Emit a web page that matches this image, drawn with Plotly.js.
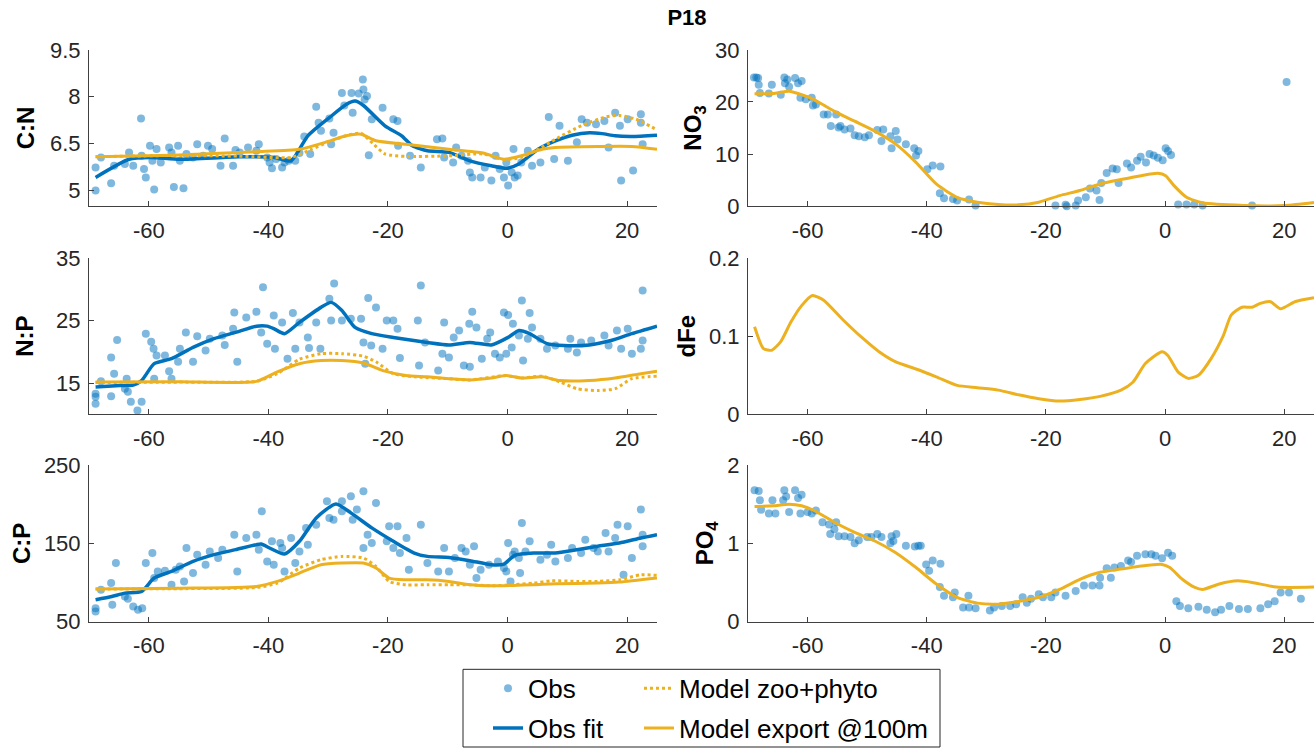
<!DOCTYPE html>
<html><head><meta charset="utf-8">
<script src="https://cdn.plot.ly/plotly-3.0.1.min.js"></script>
<style>html,body{margin:0;padding:0;background:#fff}#chart{width:1314px;height:752px}</style>
</head><body><div id="chart"></div>
<script>
// ---------- data ----------
const xTickVals = [-60, -40, -20, 0, 20];
const xTickLabels = ['-60', '-40', '-20', '0', '20'];

// C:N
const cnObs = [[-68.9,5.0],[-68.9,5.74],[-68,6.06],[-66.3,5.23],[-65.8,5.79],[-64,5.85],[-63.3,6.22],[-62.6,5.79],[-61.3,7.3],[-61.2,6.11],[-60.8,5.69],[-60.5,5.42],[-59.8,6.43],[-59.4,5.95],[-59.1,5.03],[-58.7,6.33],[-58,5.9],[-56.6,6.38],[-56.2,6.22],[-55.8,5.11],[-55.1,6.43],[-54.8,5.95],[-54.2,5.07],[-53.7,6.17],[-52.6,6.06],[-51.9,6.48],[-50.9,6.11],[-50.1,6.43],[-49.4,6.33],[-48,5.79],[-47.3,6.66],[-45.9,5.79],[-45.5,6.3],[-44.8,6.22],[-43.4,6.38],[-42,6.27],[-41.6,6.48],[-40.2,6.06],[-39.8,5.9],[-39.4,5.71],[-38.7,6.01],[-37.7,5.74],[-37.3,5.9],[-36.6,5.95],[-35.5,5.95],[-34.8,6.2],[-34,6.73],[-33,6.17],[-32,7.68],[-31.6,7.17],[-31.2,6.91],[-29.8,7.3],[-29.5,6.48],[-29.1,6.85],[-27.7,8.12],[-27.3,7.72],[-26.1,8.12],[-25.9,7.49],[-24.9,8.1],[-24.2,8.55],[-24.1,8.23],[-23.9,7.91],[-23.5,8.02],[-23.2,6.13],[-22.7,7.28],[-20.9,7.65],[-19.1,7.28],[-18.4,7.22],[-18.3,6.43],[-16.3,6.11],[-14.5,5.74],[-11.8,6.64],[-10.9,6.66],[-10.6,6.06],[-9.1,5.9],[-8.6,6.38],[-7.7,6.11],[-6.6,5.95],[-6.3,5.58],[-5.9,5.42],[-4.5,5.42],[-3.8,5.74],[-2.7,5.32],[-2,6.11],[-1.3,5.69],[-0.6,5.42],[-0.2,5.9],[0.1,5.16],[0.7,5.58],[1,6.33],[1.2,5.42],[1.7,5.48],[2.3,5.9],[3.4,6.27],[4.1,5.79],[5.5,5.9],[6.9,7.35],[7.8,6.01],[8.7,7.07],[10.1,5.95],[11.6,6.54],[12.4,7.28],[13.3,7.17],[14.8,7.12],[16.2,7.22],[16.9,6.38],[18,7.49],[18.8,7.07],[19,5.32],[20.1,7.28],[21,5.64],[22.3,7.44],[22.6,6.48],[22.3,7.17]];
const cnFit = [[-68.9,5.42],[-63.3,6.0],[-59.8,6.06],[-54.8,6.0],[-44.8,6.08],[-39,6.06],[-36.2,5.95],[-33.4,6.75],[-29.8,7.33],[-27,7.75],[-25.5,7.86],[-24.1,7.72],[-20.5,7.07],[-17.7,6.75],[-15.9,6.43],[-13.4,6.27],[-9.8,6.22],[-6.3,5.95],[-2.7,5.79],[-0.2,5.71],[1.9,5.85],[5.1,6.32],[8,6.59],[10.8,6.77],[13.7,6.85],[15.8,6.82],[18,6.75],[20.8,6.73],[25,6.77]];
const cnZoo = [[-68.9,6.08],[-56,6.12],[-45,6.1],[-36.2,6.06],[-33,6.3],[-30,6.55],[-27,6.75],[-24.5,6.83],[-22.5,6.5],[-20.5,6.17],[-17,6.09],[-9.8,6.11],[-4.1,6.17],[-0.6,5.99],[2.3,6.06],[5.1,6.32],[8,6.64],[12.3,7.07],[16.5,7.36],[18.7,7.4],[21.5,7.28],[25,6.94]];
const cnExp = [[-68.9,6.08],[-56,6.13],[-42,6.24],[-34.8,6.32],[-30.5,6.54],[-27,6.75],[-24.5,6.8],[-22,6.59],[-17,6.48],[-9.8,6.32],[-4.1,6.2],[-0.6,6.0],[2.3,6.11],[5.8,6.32],[8,6.38],[15.1,6.41],[20.8,6.41],[25,6.32]];

// N:P
const npObs = [[-68.9,13.3],[-68.9,11.7],[-68.9,12.8],[-68,15.3],[-66.3,12.9],[-66.3,19.1],[-65.8,16.5],[-65.3,21.9],[-64,14.1],[-63.7,15.7],[-63.5,13.6],[-63,12],[-61.9,10.6],[-61.2,12],[-60.5,22.9],[-59.6,21.6],[-59.2,20.5],[-59.1,15.7],[-58.7,19.4],[-57.3,19.4],[-56.6,16.9],[-56.2,15.7],[-55.1,18.4],[-54.8,20.5],[-53.8,23.1],[-52.6,18.4],[-51.9,22.5],[-50.5,20.2],[-49.8,22.1],[-47.7,22.6],[-47.3,21.1],[-45.9,23.7],[-45.7,26.3],[-45.2,18.4],[-43.7,25.5],[-42,26.4],[-41.2,23.1],[-40.9,30.3],[-40.2,21.3],[-39.1,25.8],[-38.9,20.5],[-37.7,24.7],[-36.8,18.9],[-35.9,26.2],[-35.5,20.5],[-34.8,24.7],[-33.4,22.3],[-33.2,20.6],[-32,24.7],[-31.3,20.5],[-29.8,28.5],[-29.5,25],[-29,30.9],[-27.7,25],[-26.2,25.3],[-24.5,25.3],[-24.1,21.5],[-23.8,18.1],[-23.3,28.6],[-22.8,21],[-22,27.1],[-20.9,20.5],[-20.2,25],[-19.1,25],[-18.4,23.7],[-18,19],[-15,25],[-14.8,17.8],[-14.5,30.6],[-13.8,21.5],[-11.6,17],[-10.6,24.7],[-10.9,19.7],[-9.8,19.1],[-9,22.3],[-8.1,23.4],[-7.3,17.8],[-6.4,24.5],[-6.3,17.6],[-5.9,26.4],[-5.2,23.9],[-4.3,18.9],[-3.4,22.1],[-2.9,23.1],[-2.1,19.7],[-1.3,19.1],[-0.6,26.3],[-0.2,19.7],[0.1,25.9],[0.7,20.7],[0.9,24.5],[1.9,22.6],[2.4,28.2],[2.6,18.6],[3.4,22.1],[3.7,26.2],[4.1,23.9],[5.5,22.1],[6.6,20.5],[8,21],[10.5,22.1],[10.1,20.5],[11.6,19.9],[12.3,21.5],[14,21.8],[16.2,22.6],[16.9,21],[18.3,23.4],[19,20.5],[20.1,23.7],[20.8,19.7],[22.3,20.5],[22.6,21.8],[22.6,29.8]];
const npFit = [[-68.9,14.36],[-64.8,14.6],[-62.6,14.7],[-61.2,15.4],[-59.1,18.1],[-56.2,18.9],[-52.6,20.7],[-49.1,22.1],[-45.5,23.1],[-42,24.1],[-40.2,24.1],[-39.1,23.7],[-37.3,22.9],[-34.8,24.7],[-31.2,27.1],[-29.5,27.9],[-27.7,26.6],[-25.5,23.9],[-22.7,22.9],[-19.1,22.3],[-13.4,21.5],[-9.8,21.1],[-6.3,21.5],[-2.7,21.1],[0.1,22.3],[1.9,23.4],[3.7,22.9],[6.6,21.3],[9.4,21],[13.7,21.1],[17.3,21.8],[20.8,22.9],[25,24.1]];
const npZoo = [[-68.9,15.1],[-55,15.15],[-42,15.3],[-38.5,16.5],[-34.8,18.8],[-31.2,19.7],[-27.7,19.7],[-24.1,19.3],[-22,18.4],[-19.1,16.5],[-15.5,16],[-9.8,15.7],[-6.3,15.5],[-0.2,16.2],[2.3,15.8],[5.8,16.1],[8.7,15.2],[11.6,14.1],[15.1,13.8],[18,14.1],[20.8,15.7],[25,16.1]];
const npExp = [[-68.9,15.16],[-55,15.2],[-42,15.27],[-38.5,16.8],[-34.8,18.1],[-31.2,18.6],[-27.7,18.6],[-24.1,18.2],[-20.5,16.9],[-17,16.2],[-13.4,16],[-9.8,15.7],[-6.3,15.5],[-2.7,15.8],[-0.2,16.2],[2.3,15.8],[5.8,16],[8.7,15.4],[13.7,15.4],[18,15.8],[22.3,16.5],[25,16.9]];

// C:P
const cpObs = [[-68.9,67.1],[-68.9,62.8],[-68,90.6],[-66.3,99.1],[-66.1,71.4],[-65.5,124.8],[-64,82],[-63.5,79.1],[-62.6,69.2],[-61.8,65],[-61.1,67.1],[-60.5,124.8],[-59.4,137.6],[-59.1,105.6],[-58.5,114.1],[-57.3,115],[-56.2,97],[-55.5,116.2],[-54.8,120.5],[-54.1,101.3],[-53.7,144],[-52.6,112],[-51.9,135.5],[-50.5,122.6],[-49.8,139.7],[-48.4,131.2],[-47.7,141.9],[-45.7,161.1],[-45.2,114.1],[-43.7,156.8],[-42,161.1],[-41.6,141.9],[-41.1,191],[-40.2,126.9],[-39.4,152.6],[-39.1,122.6],[-38,150.4],[-37.7,144],[-37.3,114.1],[-36.2,156.8],[-35.5,124.8],[-34.8,139.7],[-33.7,169.7],[-33.4,148.3],[-32,173.9],[-30.2,203.8],[-29.8,182.5],[-29.1,180.3],[-27.7,203.8],[-27.7,191],[-26.2,210.3],[-25.9,180.3],[-25.2,193.2],[-24.1,216.7],[-24.1,144],[-23.4,161.1],[-22.7,150.4],[-22,201.7],[-20.2,152.6],[-19.8,171.8],[-19.1,144],[-18.4,171.8],[-18,137.6],[-16.9,156.8],[-16.5,116.2],[-14.5,173.9],[-13.4,124.8],[-11.6,114.1],[-10.6,144],[-9.8,114.1],[-8.8,131.2],[-7.7,144],[-7,139.7],[-6.3,122.6],[-5.6,146.2],[-5.2,105.6],[-4.5,116.2],[-3.1,122.6],[-1.6,126.9],[-0.6,118.4],[-0.2,114.1],[0.1,150.4],[0.5,101.3],[0.9,135.5],[1.2,139.7],[1.9,131.2],[2.1,112],[2.4,176],[3,139.7],[3.7,152.6],[5.5,129.1],[6.6,135.5],[7.3,148.3],[8,126.9],[10.1,131.2],[10.8,144],[12.3,137.6],[13,154.7],[14.4,144],[15.1,139.7],[16.4,163.2],[16.9,139.7],[18,156.8],[18.4,173.9],[19.4,109.8],[20.1,171.8],[20.8,131.2],[22.3,193.2],[22.6,161.1],[22.6,146.2]];
const cpFit = [[-68.9,77.8],[-66.2,82],[-64,86.3],[-61.2,88.5],[-59.1,105.6],[-56.2,114.1],[-52.6,126.9],[-49.1,135.5],[-45.5,141.9],[-42,148.3],[-41.2,149.1],[-39.8,144],[-37.3,136.3],[-34.8,152.6],[-32,182.5],[-28.7,200.4],[-26.2,188.9],[-22.7,169.7],[-19.1,152.6],[-15.6,137.6],[-13.4,133.3],[-9.8,132],[-6.3,127.8],[-2.7,122.6],[-0.6,123.5],[1.2,134.6],[4.4,137.6],[8,137.6],[11.6,141.9],[15.1,146.2],[18.7,150.4],[22.3,156.8],[25,161.1]];
const cpZoo = [[-68.9,91.5],[-55,92],[-42,93.5],[-38.5,99.1],[-34.8,118.4],[-31.2,129.1],[-27.7,133.3],[-24.1,131.2],[-22,120.5],[-19.8,101.3],[-17,97],[-13.4,97],[-9.8,97],[-6.3,97],[-2.7,95.7],[0.9,97],[4.4,99.1],[7.3,102.1],[11.6,101.3],[15.1,101.3],[18.7,103.4],[22.3,109.8],[25,109]];
const cpExp = [[-68.9,91.5],[-55,92.5],[-42,94.9],[-38.5,101.3],[-34.8,112],[-31.2,122.6],[-27.7,124.8],[-24.1,124.8],[-22,118.4],[-19.8,105.6],[-17,103.4],[-13.4,103.4],[-9.8,101.3],[-6.3,97],[-2.7,95.7],[0.9,96.2],[4.4,97],[8,98.3],[15.1,99.1],[18.7,100.4],[25,105.6]];

// NO3
const no3Obs = [[-69,24.7],[-68.6,24.7],[-68.3,24.6],[-68.2,23.3],[-68,21.7],[-66.5,21.6],[-66,23.3],[-64.5,21.4],[-63.9,24.7],[-63.8,23.6],[-63.4,24.3],[-63.1,22.9],[-62.1,24.6],[-61.6,23.6],[-61,24],[-61.2,20.8],[-60.3,20.5],[-59.3,20.8],[-59.1,19.3],[-58.6,19.5],[-57.3,17.6],[-56.6,17.6],[-56.1,15.4],[-55.2,17.6],[-54.8,15.1],[-54.5,15.4],[-53.8,14.7],[-52.8,14.9],[-52.1,13.6],[-51.4,13.4],[-50.4,13.2],[-49.7,13.6],[-48.3,14.6],[-47.6,12.5],[-47.3,14.7],[-46.1,13.4],[-45.9,11.1],[-45.2,14.4],[-44.9,12.8],[-43.5,11.9],[-42.1,11.1],[-41.4,10.6],[-41.8,9.7],[-39.9,7.1],[-39,7.8],[-37.7,7.6],[-37.8,2.5],[-37.1,1.5],[-35.6,1.4],[-34.9,1.1],[-32.9,1.3],[-31.8,0.13],[-18.4,0.13],[-16.7,0.25],[-16.5,0],[-15,0.13],[-14.6,1.1],[-13.3,1.7],[-12.6,3.4],[-11.5,3.0],[-11,1.2],[-10.7,4.45],[-9.8,6.36],[-8.8,7.25],[-8.1,7.1],[-7.8,4.45],[-6.4,8.2],[-5.7,7.4],[-4.7,8.7],[-4.1,9.5],[-3.2,8.4],[-2.6,10],[-1.9,9.7],[-1.2,9.3],[-0.4,8.8],[0.1,11.1],[0.5,10.6],[1,9.8],[2.2,0.3],[3.6,0.3],[4.9,0.3],[6.3,0.13],[14.6,0.13],[20.4,23.8]];
const no3Exp = [[-68.9,21.55],[-65.8,21.6],[-63.1,22.06],[-61,21.4],[-59,20.5],[-55.5,18.2],[-52.1,16.3],[-48.7,14.4],[-45.2,11.9],[-41.8,8.4],[-38.4,4.26],[-34.9,1.7],[-31.5,0.76],[-28,0.32],[-24.6,0.25],[-21.2,0.76],[-17.7,2.03],[-14.3,3.0],[-10.9,4.26],[-7.4,5.1],[-4,5.85],[-1.2,6.3],[0.1,5.85],[1.5,3.94],[3.6,1.72],[6.3,0.64],[13.2,0.13],[20.1,0.13],[25,0.7]];

// dFe
const dfeExp = [[-68.9,0.112],[-67.4,0.084],[-66,0.082],[-64.5,0.093],[-62.8,0.118],[-61,0.139],[-59.2,0.152],[-57.3,0.146],[-54.2,0.122],[-50.7,0.097],[-48,0.080],[-45.2,0.067],[-41.8,0.058],[-38.4,0.048],[-34.9,0.037],[-31.5,0.034],[-28,0.031],[-24.6,0.025],[-21.2,0.020],[-17.7,0.017],[-14.3,0.019],[-10.9,0.023],[-7.4,0.031],[-5.4,0.041],[-3.3,0.065],[-0.5,0.080],[0.5,0.075],[2.2,0.054],[3.9,0.046],[5.6,0.050],[7.7,0.071],[9.8,0.101],[11.1,0.127],[12.9,0.137],[14.6,0.137],[16,0.142],[17.7,0.144],[19.4,0.135],[21.8,0.144],[25,0.149]];

// PO4
const po4Obs = [[-68.9,1.68],[-68.2,1.67],[-68,1.55],[-67.8,1.43],[-66.5,1.38],[-65.9,1.55],[-65.4,1.38],[-64.1,1.55],[-63.9,1.68],[-63.6,1.6],[-63.1,1.4],[-62.1,1.68],[-61.6,1.58],[-61.2,1.38],[-61,1.62],[-60,1.40],[-59.3,1.38],[-58.6,1.42],[-57.5,1.27],[-56.4,1.24],[-56.2,1.12],[-55.5,1.18],[-55.2,1.27],[-54.8,1.09],[-53.8,1.09],[-52.8,1.08],[-52.1,1.0],[-51.4,1.04],[-50,1.08],[-49.3,1.08],[-48.3,1.12],[-47.6,1.08],[-46.1,1.0],[-45.9,1.09],[-45.6,1.03],[-45.1,1.12],[-43.5,0.97],[-42,0.96],[-41.4,0.97],[-41,0.97],[-40.1,0.73],[-39.6,0.65],[-39,0.78],[-37.7,0.74],[-37.8,0.44],[-37.1,0.33],[-35.6,0.31],[-35.3,0.37],[-33.9,0.18],[-33,0.33],[-32.9,0.18],[-31.8,0.17],[-29.4,0.14],[-28.7,0.18],[-27.4,0.2],[-26,0.2],[-25,0.22],[-23.9,0.31],[-23.2,0.24],[-22.5,0.29],[-21.2,0.35],[-20.5,0.31],[-19.1,0.31],[-18.4,0.37],[-16.7,0.33],[-15,0.39],[-13.6,0.46],[-12.2,0.46],[-11,0.46],[-10.9,0.56],[-9.8,0.68],[-9.1,0.56],[-8.5,0.69],[-7.4,0.71],[-6.2,0.78],[-5.7,0.76],[-4.7,0.84],[-3.3,0.86],[-2.3,0.86],[-1.6,0.84],[-0.5,0.81],[0.5,0.88],[1.2,0.84],[1.9,0.26],[2.5,0.2],[3.9,0.17],[5.6,0.19],[7,0.15],[8.4,0.12],[9.4,0.15],[10.8,0.2],[12.4,0.16],[13.9,0.16],[16,0.17],[17.3,0.22],[18.4,0.26],[19.4,0.37],[20.8,0.37],[22.8,0.29]];
const po4Exp = [[-68.9,1.47],[-65.8,1.48],[-63.1,1.50],[-61,1.48],[-58.9,1.42],[-55.5,1.27],[-52.1,1.14],[-48.7,1.03],[-45.2,0.88],[-41.8,0.69],[-38.4,0.48],[-34.9,0.31],[-31.5,0.235],[-28,0.222],[-24.6,0.256],[-21.2,0.31],[-17.7,0.41],[-14.3,0.54],[-10.9,0.63],[-7.4,0.67],[-4,0.71],[-0.5,0.73],[0.8,0.69],[2.9,0.54],[4.9,0.44],[6.3,0.41],[9.1,0.48],[12.2,0.52],[14.6,0.50],[18.7,0.44],[25,0.44]];

// ---------- drawing ----------
const BLUE = '#0072BD', YEL = '#EDB120', OBSC = 'rgba(0,114,189,0.5)';
const FONT = '"Liberation Sans", Arial, Helvetica, sans-serif';
const xs = p => p.map(d => d[0]), ys = p => p.map(d => d[1]);

function obs(p, n, leg) {
  return {x: xs(p), y: ys(p), xaxis: 'x' + (n > 1 ? n : ''), yaxis: 'y' + (n > 1 ? n : ''),
    type: 'scatter', mode: 'markers', marker: {size: 8, color: OBSC, line: {width: 0}},
    name: 'Obs', showlegend: !!leg, legend: leg || 'legend', cliponaxis: false};
}
function line(p, n, color, dash, width, name, leg) {
  return {x: xs(p), y: ys(p), xaxis: 'x' + (n > 1 ? n : ''), yaxis: 'y' + (n > 1 ? n : ''),
    type: 'scatter', mode: 'lines', line: {color: color, dash: dash, width: width, shape: 'spline', smoothing: 0.6},
    name: name, showlegend: !!leg, legend: leg || 'legend'};
}

const data = [
  obs(cnObs, 1, 'legend'),
  line(cnFit, 1, BLUE, 'solid', 3.5, 'Obs fit', 'legend3'),
  line(cnZoo, 1, YEL, 'dot', 3, 'Model zoo+phyto', 'legend2'),
  line(cnExp, 1, YEL, 'solid', 3, 'Model export @100m', 'legend4'),
  obs(no3Obs, 2), line(no3Exp, 2, YEL, 'solid', 3, 'Model export @100m'),
  obs(npObs, 3), line(npFit, 3, BLUE, 'solid', 3.5, 'Obs fit'),
  line(npZoo, 3, YEL, 'dot', 3, 'Model zoo+phyto'), line(npExp, 3, YEL, 'solid', 3, 'Model export @100m'),
  line(dfeExp, 4, YEL, 'solid', 3, 'Model export @100m'),
  obs(cpObs, 5), line(cpFit, 5, BLUE, 'solid', 3.5, 'Obs fit'),
  line(cpZoo, 5, YEL, 'dot', 3, 'Model zoo+phyto'), line(cpExp, 5, YEL, 'solid', 3, 'Model export @100m'),
  obs(po4Obs, 6), line(po4Exp, 6, YEL, 'solid', 3, 'Model export @100m')
];

const W = 1314, H = 752;
const colX = [[89 / W, 657 / W], [748 / W, 1]];
const rowY = [[1 - 207 / H, 1 - 50 / H], [1 - 416 / H, 1 - 259 / H], [1 - 624 / H, 1 - 467 / H]];
const AX = '#404040';
const tickFont = {family: FONT, size: 22, color: '#262626'};

function xa(col, row, n) {
  return {domain: colX[col], anchor: 'y' + (n > 1 ? n : ''), range: [-70, 25], tickmode: 'array',
    tickvals: xTickVals, ticktext: xTickLabels, ticks: 'inside', ticklen: 5, tickcolor: AX,
    showline: true, linecolor: AX, linewidth: 1, showgrid: false, zeroline: false,
    tickfont: tickFont, ticklabelstandoff: 4, fixedrange: true};
}
function ya(col, row, n, range, tv, title, standoff) {
  return {domain: rowY[row], anchor: 'x' + (n > 1 ? n : ''), range: range, tickmode: 'array', tickvals: tv,
    ticks: 'inside', ticklen: 5, tickcolor: AX, showline: true, linecolor: AX, linewidth: 1,
    showgrid: false, zeroline: false, tickfont: tickFont, ticklabelstandoff: 3,
    title: {text: title, font: {family: FONT, size: 24, color: '#000', weight: 700}, standoff: standoff},
    fixedrange: true};
}

const legBase = {bgcolor: 'rgba(0,0,0,0)', borderwidth: 0, font: {family: FONT, size: 26, color: '#000'},
  xanchor: 'left', yanchor: 'middle', orientation: 'v'};

const layout = {
  width: W, height: H, margin: {l: 0, r: 0, t: 0, b: 0}, paper_bgcolor: '#fff', plot_bgcolor: '#fff',
  font: {family: FONT},
  title: {text: 'P18', x: 687 / W, xanchor: 'center', y: 1 - 17 / H, yanchor: 'middle', xref: 'paper',
    font: {family: FONT, size: 22, weight: 700, color: '#000'}},
  xaxis: xa(0, 0, 1), yaxis: ya(0, 0, 1, [4.5, 9.5], [5, 6.5, 8, 9.5], 'C:N', 8),
  xaxis2: xa(1, 0, 2), yaxis2: ya(1, 0, 2, [0, 30], [0, 10, 20, 30], 'NO<sub>3</sub>', 6),
  xaxis3: xa(0, 1, 3), yaxis3: ya(0, 1, 3, [10, 35], [15, 25, 35], 'N:P', 15),
  xaxis4: xa(1, 1, 4), yaxis4: ya(1, 1, 4, [0, 0.2], [0, 0.1, 0.2], 'dFe', 6),
  xaxis5: xa(0, 2, 5), yaxis5: ya(0, 2, 5, [50, 250], [50, 150, 250], 'C:P', 6),
  xaxis6: xa(1, 2, 6), yaxis6: ya(1, 2, 6, [0, 2], [0, 1, 2], 'PO<sub>4</sub>', 6),
  legend: Object.assign({}, legBase, {x: 488 / W, y: 1 - 691 / H}),
  legend2: Object.assign({}, legBase, {x: 639 / W, y: 1 - 691 / H}),
  legend3: Object.assign({}, legBase, {x: 488 / W, y: 1 - 731 / H}),
  legend4: Object.assign({}, legBase, {x: 639 / W, y: 1 - 731 / H}),
  shapes: [{type: 'rect', xref: 'paper', yref: 'paper', x0: 463 / W, x1: 940 / W, y0: 1 - 750 / H, y1: 1 - 672 / H,
    line: {color: '#262626', width: 1}, fillcolor: 'rgba(0,0,0,0)'}]
};

Plotly.newPlot('chart', data, layout, {staticPlot: true, displayModeBar: false});
</script>
</body></html>
